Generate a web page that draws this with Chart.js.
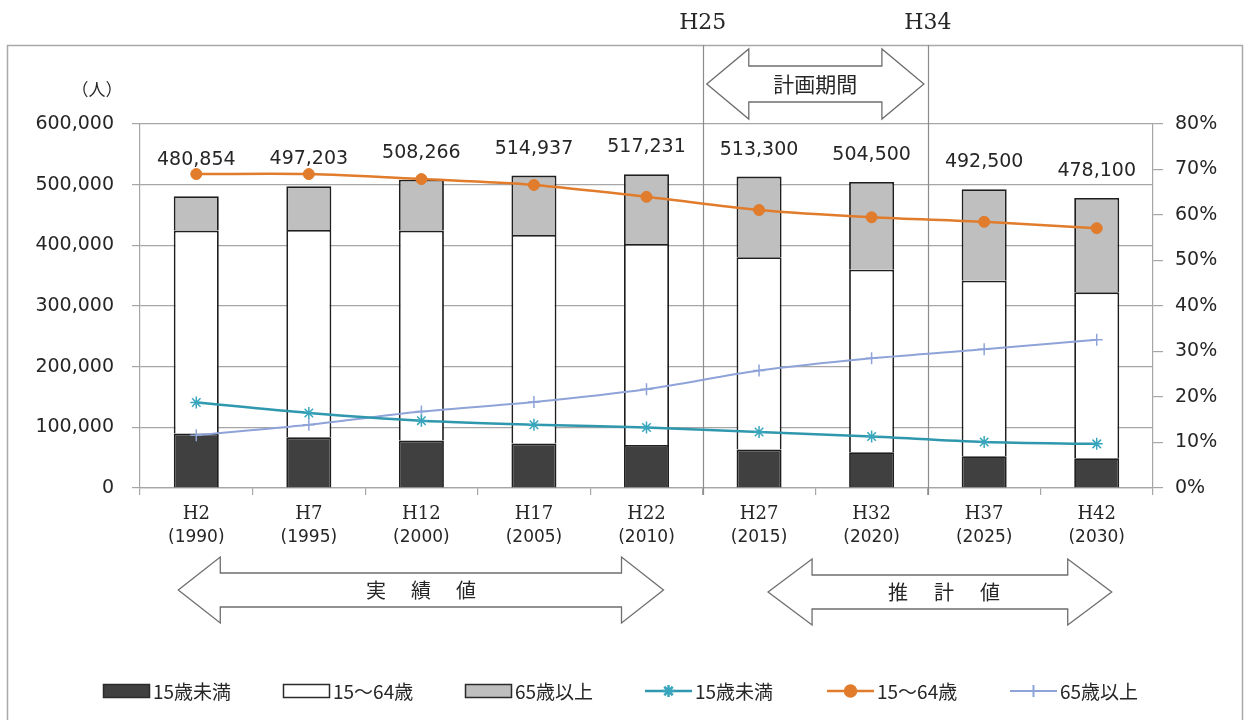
<!DOCTYPE html>
<html lang="ja">
<head>
<meta charset="utf-8">
<title>年齢3区分別人口の推移</title>
<script src="https://cdn.jsdelivr.net/npm/chart.js@4.4.1/dist/chart.umd.min.js"></script>
<style>
  html, body { margin: 0; padding: 0; background: #ffffff; }
  #wrap { width: 1245px; height: 720px; position: relative; }
</style>
</head>
<body>
<div id="wrap"><canvas id="chart" width="1245" height="720"></canvas></div>
<script>
// Census years (era name / western year)
const eraLabels  = ['H2', 'H7', 'H12', 'H17', 'H22', 'H27', 'H32', 'H37', 'H42'];
const yearLabels = ['(1990)', '(1995)', '(2000)', '(2005)', '(2010)', '(2015)', '(2020)', '(2025)', '(2030)'];

// Population by age group (persons)
const popUnder15 = [90000, 83500, 78500, 73500, 71000, 63500, 59000, 52500, 49000];
const pop15to64  = [334300, 341900, 345800, 343700, 331400, 317000, 300700, 289100, 273500];
const pop65plus  = [56554, 71803, 83966, 97737, 114831, 132800, 144800, 150900, 155600];
const popTotal   = [480854, 497203, 508266, 514937, 517231, 513300, 504500, 492500, 478100];

// Share of total population (%)
const shareUnder15 = [18.8, 16.5, 14.8, 13.9, 13.3, 12.3, 11.3, 10.1, 9.7];
const share15to64  = [69.0, 69.0, 67.9, 66.6, 64.0, 61.1, 59.5, 58.5, 57.1];
const share65plus  = [11.6, 13.9, 16.8, 18.9, 21.7, 25.8, 28.5, 30.5, 32.6];

const groupNames = ['15歳未満', '15〜64歳', '65歳以上'];

// Axis ticks
const leftTicks  = { min: 0, max: 600000, step: 100000 };
const rightTicks = { min: 0, max: 80, step: 10 };

const NUM_FONT = '"DejaVu Sans", sans-serif';
const SERIF_FONT = '"DejaVu Serif", serif';
const JP_FONT = '"Noto Sans CJK JP", "Noto Sans", sans-serif';
const TEXT = '#262626';
const GRID = '#a6a6a6';

function doubleArrow(ctx, x1, x2, yMid, headLen, headHalf, shaftHalf) {
  ctx.beginPath();
  ctx.moveTo(x1, yMid);
  ctx.lineTo(x1 + headLen, yMid - headHalf);
  ctx.lineTo(x1 + headLen, yMid - shaftHalf);
  ctx.lineTo(x2 - headLen, yMid - shaftHalf);
  ctx.lineTo(x2 - headLen, yMid - headHalf);
  ctx.lineTo(x2, yMid);
  ctx.lineTo(x2 - headLen, yMid + headHalf);
  ctx.lineTo(x2 - headLen, yMid + shaftHalf);
  ctx.lineTo(x1 + headLen, yMid + shaftHalf);
  ctx.lineTo(x1 + headLen, yMid + headHalf);
  ctx.closePath();
  ctx.fillStyle = '#ffffff';
  ctx.fill();
  ctx.strokeStyle = '#6e6e6e';
  ctx.lineWidth = 1.3;
  ctx.stroke();
}

function spacedText(ctx, chars, cx, cy, gap) {
  const n = chars.length;
  chars.forEach((ch, i) => {
    ctx.fillText(ch, cx + (i - (n - 1) / 2) * gap, cy);
  });
}

const decorations = {
  id: 'decorations',
  beforeDraw(chart) {
    const ctx = chart.ctx;
    ctx.save();
    ctx.fillStyle = '#ffffff';
    ctx.fillRect(0, 0, chart.width, chart.height);
    // outer frame
    ctx.strokeStyle = '#a9a9a9';
    ctx.lineWidth = 1.5;
    ctx.strokeRect(7.5, 45.5, 1235, 700);
    ctx.restore();
  },
  beforeDatasetsDraw(chart) {
    const ctx = chart.ctx;
    const x = chart.scales.x;
    const area = chart.chartArea;
    ctx.save();
    // period separators (between H22/H27 and H32/H37)
    const sepA = (x.getPixelForValue(4) + x.getPixelForValue(5)) / 2;
    const sepB = (x.getPixelForValue(6) + x.getPixelForValue(7)) / 2;
    ctx.strokeStyle = '#8c8c8c';
    ctx.lineWidth = 1.2;
    [sepA, sepB].forEach(px => {
      ctx.beginPath();
      ctx.moveTo(Math.round(px) + 0.5, 45);
      ctx.lineTo(Math.round(px) + 0.5, area.bottom + 7);
      ctx.stroke();
    });
    ctx.restore();
  },
  afterDraw(chart) {
    const ctx = chart.ctx;
    const x = chart.scales.x;
    const y = chart.scales.y;
    const y1 = chart.scales.y1;
    const area = chart.chartArea;
    ctx.save();

    // plan period header
    const sepA = (x.getPixelForValue(4) + x.getPixelForValue(5)) / 2;
    const sepB = (x.getPixelForValue(6) + x.getPixelForValue(7)) / 2;
    ctx.fillStyle = TEXT;
    ctx.textAlign = 'center';
    ctx.textBaseline = 'middle';
    ctx.font = '22px ' + SERIF_FONT;
    ctx.fillText('H25', sepA, 23);
    ctx.fillText('H34', sepB, 23);

    doubleArrow(ctx, sepA + 4, sepB - 4, 84, 42, 35, 18);
    ctx.fillStyle = TEXT;
    ctx.font = '21px ' + JP_FONT;
    ctx.fillText('計画期間', (sepA + sepB) / 2, 84);

    // unit label
    ctx.font = '17px ' + JP_FONT;
    ctx.fillText('（人）', 97, 90);

    // totals above bars, kept clear of the working-age share line
    ctx.font = '19px ' + NUM_FONT;
    popTotal.forEach((v, i) => {
      const barTop = y.getPixelForValue(v);
      const linePt = y1.getPixelForValue(share15to64[i]);
      const ty = Math.min(barTop - 27, linePt - 14);
      ctx.fillText(v.toLocaleString('en-US'), x.getPixelForValue(i), ty);
    });

    // category labels
    eraLabels.forEach((lab, i) => {
      const px = x.getPixelForValue(i);
      ctx.font = '18px ' + SERIF_FONT;
      ctx.fillText(lab, px, area.bottom + 26);
      ctx.font = '17px ' + NUM_FONT;
      ctx.fillText(yearLabels[i], px, area.bottom + 50);
    });

    // actual / estimate arrows
    const aL = x.getPixelForValue(0) - 18, aR = x.getPixelForValue(4) + 17;
    doubleArrow(ctx, aL, aR, 590, 42, 33, 17);
    const eL = x.getPixelForValue(5) + 9, eR = x.getPixelForValue(8) + 15;
    doubleArrow(ctx, eL, eR, 592, 44, 33, 17);
    ctx.fillStyle = TEXT;
    ctx.font = '20px ' + JP_FONT;
    spacedText(ctx, ['実', '績', '値'], (aL + aR) / 2, 590, 45);
    spacedText(ctx, ['推', '計', '値'], (eL + eR) / 2 + 4, 592, 46);

    // legend
    const items = chart.data.datasets;
    const starts = [103, 283, 465, 645, 827, 1010];
    const ly = 691;
    ctx.textAlign = 'left';
    ctx.font = '19px ' + JP_FONT;
    items.forEach((ds, k) => {
      const sx = starts[k];
      if (ds.type === 'bar') {
        ctx.fillStyle = ds.backgroundColor;
        ctx.fillRect(sx, ly - 7, 47, 14);
        ctx.strokeStyle = '#2b2b2b';
        ctx.lineWidth = 1.5;
        ctx.strokeRect(sx + 0.5, ly - 6.5, 46, 13);
      } else {
        ctx.strokeStyle = ds.borderColor;
        ctx.lineWidth = ds.borderWidth;
        ctx.beginPath();
        ctx.moveTo(sx, ly);
        ctx.lineTo(sx + 47, ly);
        ctx.stroke();
        ctx.fillStyle = ds.pointBackgroundColor;
        ctx.strokeStyle = ds.pointBorderColor;
        Chart.helpers.drawPoint(ctx, {
          pointStyle: ds.pointStyle,
          radius: ds.pointRadius,
          borderWidth: ds.pointBorderWidth,
          rotation: 0
        }, sx + 23.5, ly);
      }
      ctx.fillStyle = TEXT;
      ctx.fillText(ds.label, sx + 50, ly + 1);
    });
    ctx.restore();
  }
};

const barCommon = {
  type: 'bar',
  stack: 'population',
  yAxisID: 'y',
  borderColor: '#1f1f1f',
  borderWidth: 1.8,
  borderSkipped: 'start',
  categoryPercentage: 0.8,
  barPercentage: 0.5,
  order: 2
};

const lineCommon = {
  type: 'line',
  yAxisID: 'y1',
  fill: false,
  tension: 0.3,
  order: 0
};

new Chart(document.getElementById('chart'), {
  data: {
    labels: eraLabels,
    datasets: [
      Object.assign({}, barCommon, { label: groupNames[0], data: popUnder15, backgroundColor: '#404040' }),
      Object.assign({}, barCommon, { label: groupNames[1], data: pop15to64, backgroundColor: '#ffffff' }),
      Object.assign({}, barCommon, { label: groupNames[2], data: pop65plus, backgroundColor: '#bfbfbf' }),
      Object.assign({}, lineCommon, {
        label: groupNames[0], data: shareUnder15,
        borderColor: '#2f98ae', backgroundColor: '#2f98ae', borderWidth: 2.5,
        pointStyle: 'star', pointRadius: 6, pointBorderWidth: 1.5,
        pointBackgroundColor: '#2f98ae', pointBorderColor: '#3aa6bd'
      }),
      Object.assign({}, lineCommon, {
        label: groupNames[1], data: share15to64,
        borderColor: '#e07c2c', backgroundColor: '#e07c2c', borderWidth: 2.5,
        pointStyle: 'circle', pointRadius: 5.5, pointBorderWidth: 1,
        pointBackgroundColor: '#e07c2c', pointBorderColor: '#e07c2c'
      }),
      Object.assign({}, lineCommon, {
        label: groupNames[2], data: share65plus,
        borderColor: '#8ea3d8', backgroundColor: '#8ea3d8', borderWidth: 2,
        pointStyle: 'cross', pointRadius: 6, pointBorderWidth: 1.5,
        pointBackgroundColor: '#8ea3d8', pointBorderColor: '#8ea3d8'
      })
    ]
  },
  options: {
    responsive: false,
    animation: false,
    devicePixelRatio: 1,
    layout: { padding: { top: 124, left: 0, right: 0, bottom: 0 } },
    plugins: {
      legend: { display: false },
      tooltip: { enabled: false }
    },
    scales: {
      x: {
        stacked: true,
        offset: true,
        grid: { offset: true, drawOnChartArea: false, drawTicks: true, tickLength: 7, color: GRID, lineWidth: 1.2 },
        border: { color: GRID, width: 1.2 },
        ticks: { display: false },
        afterFit(scale) { scale.height = 232; }
      },
      y: {
        stacked: true,
        position: 'left',
        min: leftTicks.min,
        max: leftTicks.max,
        ticks: {
          stepSize: leftTicks.step,
          color: TEXT,
          font: { family: NUM_FONT, size: 19 },
          padding: 18,
          callback: v => Number(v).toLocaleString('en-US')
        },
        grid: { color: GRID, lineWidth: 1.2, tickLength: 8 },
        border: { color: GRID, width: 1.2 },
        afterFit(scale) { scale.width = 140; }
      },
      y1: {
        position: 'right',
        min: rightTicks.min,
        max: rightTicks.max,
        ticks: {
          stepSize: rightTicks.step,
          color: TEXT,
          font: { family: NUM_FONT, size: 19 },
          padding: 12,
          callback: v => v + '%'
        },
        grid: { drawOnChartArea: false, color: GRID, lineWidth: 1.2, tickLength: 10 },
        border: { color: GRID, width: 1.2 },
        afterFit(scale) { scale.width = 92; }
      }
    }
  },
  plugins: [decorations]
});
</script>
</body>
</html>
